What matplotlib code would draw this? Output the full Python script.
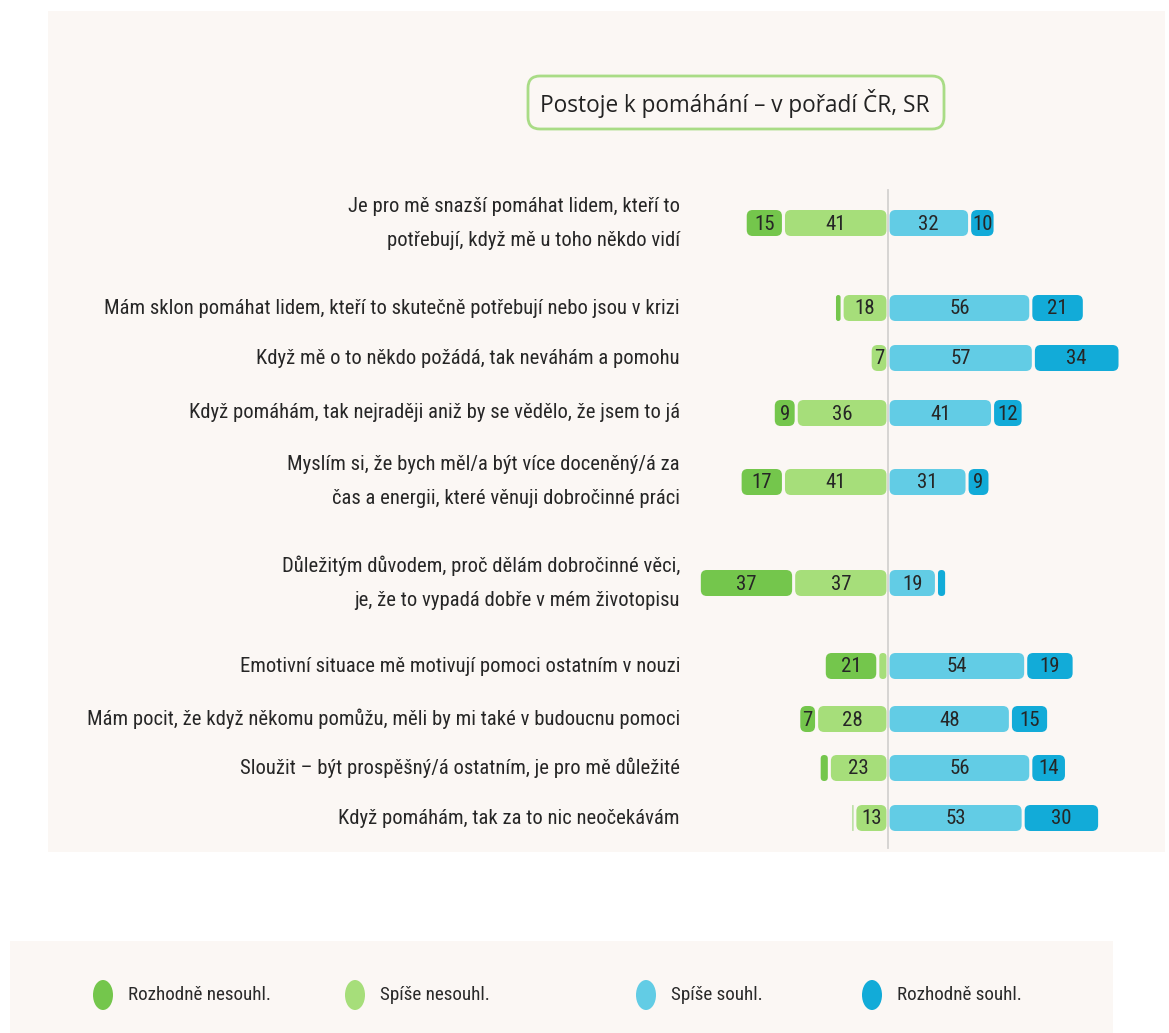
import matplotlib
matplotlib.use("Agg")
import matplotlib.pyplot as plt
from matplotlib import font_manager
from matplotlib.patches import FancyBboxPatch, Rectangle, Ellipse

statements = [
    "Je pro mě snazší pomáhat lidem, kteří to\npotřebují, když mě u toho někdo vidí",
    "Mám sklon pomáhat lidem, kteří to skutečně potřebují nebo jsou v krizi",
    "Když mě o to někdo požádá, tak neváhám a pomohu",
    "Když pomáhám, tak nejraději aniž by se vědělo, že jsem to já",
    "Myslím si, že bych měl/a být více doceněný/á za\nčas a energii, které věnuji dobročinné práci",
    "Důležitým důvodem, proč dělám dobročinné věci,\nje, že to vypadá dobře v mém životopisu",
    "Emotivní situace mě motivují pomoci ostatním v nouzi",
    "Mám pocit, že když někomu pomůžu, měli by mi také v budoucnu pomoci",
    "Sloužit – být prospěšný/á ostatním, je pro mě důležité",
    "Když pomáhám, tak za to nic neočekávám",
]
rozhodne_nesouhl = [15, 3, 1, 9, 17, 37, 21, 7, 4, 1.5]
spise_nesouhl = [41, 18, 7, 36, 41, 37, 4, 28, 23, 13]
spise_souhl = [32, 56, 57, 41, 31, 19, 54, 48, 56, 53]
rozhodne_souhl = [10, 21, 34, 12, 9, 4, 19, 15, 14, 30]

legend_labels = ["Rozhodně nesouhl.", "Spíše nesouhl.", "Spíše souhl.", "Rozhodně souhl."]
title = "Postoje k pomáhání – v pořadí ČR, SR"

colors = ["#74c64c", "#a6de7a", "#62cce5", "#12abd8"]
bg = "#fbf7f4"

# pick a narrow font if one is installed
names = {f.name for f in font_manager.fontManager.ttflist}
narrow = None
for cand in ["Liberation Sans Narrow", "Roboto Condensed", "DejaVu Sans Condensed",
             "Open Sans Condensed", "Noto Sans Condensed"]:
    if cand in names:
        narrow = cand
        break
if narrow is None:
    dv = [f for f in font_manager.fontManager.ttflist
          if f.name == "DejaVu Sans" and "condensed" in str(f.stretch)]
    if dv:
        narrow = "DejaVu Sans"
        plt.rcParams['font.stretch'] = 'condensed'
if narrow is not None:
    plt.rcParams['font.family'] = [narrow, 'DejaVu Sans']
    lab_fs, num_fs, leg_fs = 14.9, 15, 13.8
else:
    plt.rcParams['font.family'] = ['Roboto', 'DejaVu Sans']
    lab_fs, num_fs, leg_fs = 12.3, 12, 13

# layout (pixels)
W, H = 1169, 1033
row_y = [223, 308, 358, 413, 482, 583, 666, 719, 768, 818]
cx = 888
S = 2.55          # px per percent
bar_h = 26
rad = 6

fig = plt.figure(figsize=(W / 100, H / 100), dpi=100)
fig.patch.set_facecolor("white")

deco = fig.add_axes([0, 0, 1, 1])
deco.set_xlim(0, W)
deco.set_ylim(H, 0)
deco.axis("off")

deco.add_patch(Rectangle((48, 11), 1117, 841, facecolor=bg, edgecolor="none"))
deco.add_patch(Rectangle((10, 941), 1103, 92, facecolor=bg, edgecolor="none"))

deco.add_patch(FancyBboxPatch((528, 76), 416, 53, boxstyle="round,pad=0,rounding_size=12",
                              facecolor=bg, edgecolor="#a9dc86", linewidth=2))
deco.text(735, 103, title, ha="center", va="center", fontsize=16.3,
          family=["Open Sans", "DejaVu Sans"], stretch="normal", color="#222222")

deco.plot([cx, cx], [190, 848], color="#d4d2d0", linewidth=1.3)

# legend
leg_x = [103, 355, 646, 872]
for i, lab in enumerate(legend_labels):
    deco.add_patch(Ellipse((leg_x[i], 995), 20, 30, facecolor=colors[i], edgecolor="none"))
    deco.text(leg_x[i] + 25, 995, lab, ha="left", va="center", fontsize=leg_fs, color="#2a2a2a")

ax = fig.add_axes([0, 0, 1, 1])
ax.set_xlim((0 - cx) / S, (W - cx) / S)
ax.set_ylim(H, 0)
ax.axis("off")
ax.patch.set_alpha(0)


def seg(x0, x1, y, color, value):
    gap = 0.6
    a, b = x0 + gap, x1 - gap
    w = b - a
    if w <= 0:
        return
    r = min(rad / S, w / 2)
    ax.add_patch(FancyBboxPatch((a, y - bar_h / 2), w, bar_h,
                                boxstyle="round,pad=0,rounding_size=%f" % r,
                                mutation_aspect=S, facecolor=color, edgecolor="none"))
    if value >= 5:
        ax.text((a + b) / 2, y + 1, "%d" % round(value), ha="center", va="center",
                fontsize=num_fs, color="#262626")


for i, y in enumerate(row_y):
    l2 = spise_nesouhl[i]
    l1 = rozhodne_nesouhl[i]
    seg(-l2, 0, y, colors[1], l2)
    seg(-l2 - l1, -l2, y, colors[0], l1)
    r1 = spise_souhl[i]
    r2 = rozhodne_souhl[i]
    seg(0, r1, y, colors[2], r1)
    seg(r1, r1 + r2, y, colors[3], r2)
    ax.text((680 - cx) / S, y, statements[i], ha="right", va="center",
            fontsize=lab_fs, color="#262626", linespacing=2.0)

fig.savefig("out.png", dpi=100, facecolor="white")
